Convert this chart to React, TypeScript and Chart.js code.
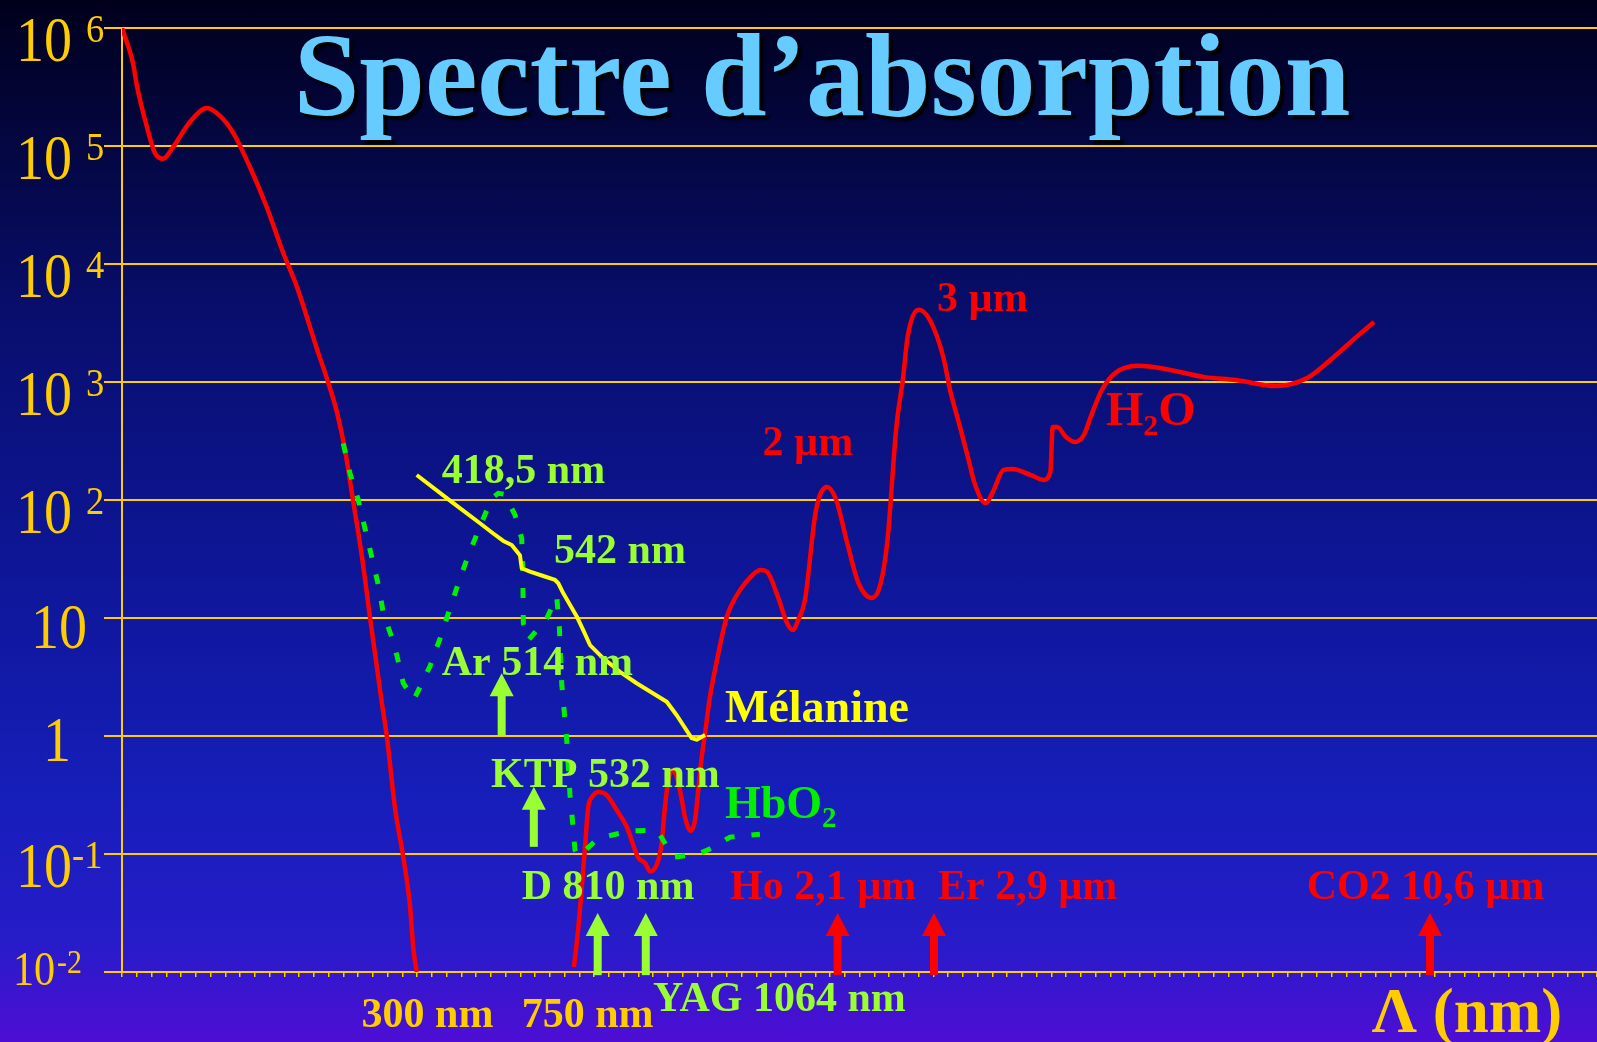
import { useEffect, useRef } from "react";
import { Chart, registerables } from "chart.js";

Chart.register(...registerables);

// x: position along the (non-uniform) wavelength axis, in minor-tick units (0 to 100)
// y: absorption coefficient (logarithmic)
const h2oX = [
  0, 0.75, 1.02, 1.69, 2.24, 2.78, 3.46, 4.61, 5.76, 6.64, 7.53, 8.68, 9.83, 10.92, 11.86, 13.22, 13.97, 14.58,
  15.12, 15.66, 16.27, 16.81, 17.59, 17.97, 18.51, 19.07, 19.53, 19.75, 19.98, 25,
  30.64, 30.94, 31.17, 31.39, 31.61, 31.84, 32.29, 32.86, 33.54, 34.22, 35.0, 35.46, 35.8, 36.25, 36.59, 36.81,
  37.04, 37.27, 37.61, 37.95, 38.17, 38.56, 38.85, 39.07, 39.3, 39.53, 39.86, 40.34, 41.0, 41.91, 42.58, 43.27,
  43.73, 44.48, 45.08, 45.48, 45.84, 46.3, 47.05, 47.81, 48.42, 49.17, 49.93, 50.84, 51.44, 51.9, 52.5, 52.96,
  53.26, 54.02, 54.77, 55.68, 56.14, 56.74, 57.35, 57.8, 58.56, 59.01, 59.77, 60.37, 61.59, 62.49, 62.94, 63.1,
  63.4, 64.0, 64.61, 65.21, 65.67, 66.43, 67.34, 68.85, 70.36, 73.39, 75.51, 78.23, 80.35, 82.16, 83.68, 84.89,
];
const h2oY = [
  1e6, 5e5, 3.2e5, 1.45e5, 8.7e4, 7.8e4, 9.8e4, 1.6e5, 2.1e5, 1.8e5, 1.3e5, 6.6e4, 3.0e4, 1.25e4, 6.4e3, 1.9e3, 1.0e3, 550,
  265, 100, 33, 10.2, 2.02, 0.96, 0.245, 0.094, 0.036, 0.016, 0.01, null,
  0.011, 0.024, 0.052, 0.114, 0.25, 0.3, 0.335, 0.316, 0.236, 0.17, 0.093, 0.084, 0.071, 0.081, 0.124, 0.25,
  0.42, 0.51, 0.45, 0.29, 0.205, 0.157, 0.194, 0.35, 0.66, 1.06, 2.14, 4.4, 10.2, 17.3, 22, 25.5,
  24.6, 15, 9.1, 7.9, 9.6, 14.2, 82, 129, 100, 43, 19.8, 14.8, 19.8, 46, 415, 1100,
  2400, 4100, 3350, 1630, 855, 450, 231, 139, 94, 115, 180, 183, 163, 148, 173, 415,
  415, 342, 310, 355, 505, 855, 1190, 1370, 1315, 1100, 1040, 925, 1080, 1630, 2400, 3220,
];

const melX = [19.98, 22.46, 24.27, 25.17, 25.85, 26.42, 26.98, 27.1, 27.66, 28.56, 29.36, 29.58, 29.92, 30.83, 31.27, 31.73, 32.63, 33.76, 34.89, 36.93, 37.61, 38.62, 38.96, 39.53];
const melY = [163, 94, 63.5, 52, 45, 41.5, 34, 26.4, 24.7, 22.7, 21, 19.7, 16.2, 10.3, 7.9, 5.9, 4.55, 3.5, 2.8, 1.95, 1.5, 0.96, 0.93, 1.02];

const hbX = [
  15.0, 15.46, 16.02, 16.47, 16.93, 17.38, 17.72, 18.39, 18.62, 19.07, 19.8, 20.88, 21.56, 22.24, 22.8, 23.48, 24.27,
  25.06, 25.51, 25.9, 26.64, 27.1, 27.17, 27.19, 27.21, 27.55, 28.79, 29.47, 29.65, 29.81, 30.15, 30.37, 30.56, 30.71,
  30.94, 32.29, 34.44, 36.14, 36.47, 37.38, 38.96, 39.98, 41.22, 43.25,
];
const hbY = [
  302, 168, 100, 57.5, 33, 19, 11, 6.3, 4.9, 2.8, 2.05, 3.9, 6.7, 12.1, 19.7, 34, 59.5,
  103, 114, 112, 75, 47, 27, 15.2, 9.0, 6.5, 9.9, 15.2, 8.4, 2.8, 0.93, 0.32, 0.18, 0.108,
  0.095, 0.136, 0.157, 0.159, 0.145, 0.094, 0.099, 0.112, 0.139, 0.147,
];

const yTickValues = [1e6, 1e5, 1e4, 1e3, 1e2, 10, 1, 0.1, 0.01];
const yTickBase = ["10", "10", "10", "10", "10", "10", "1", "10", "10"];
const yTickExp = ["6", "5", "4", "3", "2", "", "", "-1", "-2"];

// laser lines: Ar 514, KTP 532, D 810, YAG 1064, Ho 2.1, Er 2.9, CO2 10.6
const arrowX = [25.74, 27.92, 32.25, 35.51, 48.52, 55.05, 88.68];
const arrowBase = [1, 0.115, 0.0094, 0.0094, 0.0094, 0.0094, 0.0094];
const arrowTip = [3.4, 0.372, 0.0316, 0.0316, 0.0316, 0.0316, 0.0316];

const labelText = [
  "418,5 nm", "542 nm", "Ar 514 nm", "KTP 532 nm", "Mélanine", "HbO_2", "D 810 nm", "Ho 2,1 µm",
  "Er 2,9 µm", "CO2 10,6 µm", "YAG 1064 nm", "300 nm", "750 nm", "Λ (nm)", "3 µm", "2 µm", "H_2O",
];
const labelX = [21.68, 29.29, 21.68, 25.02, 40.88, 40.88, 27.1, 41.22, 55.32, 80.32, 36.0, 16.24, 27.1, 84.73, 55.25, 43.42, 66.71];
const labelY = [140, 29.4, 3.29, 0.372, 1.32, 0.202, 0.0413, 0.0413, 0.0413, 0.0413, 0.0047, 0.00343, 0.00343, 0.00312, 3960, 240, 432];

const TITLE = "Spectre d\u2019absorption";

const GOLD = "#FFCC00";
const LG = "#99FF33";
const RED = "#FF0000";
const YEL = "#FFFF00";
const HBG = "#00F000";
const SERIF = '"Liberation Serif", "Times New Roman", "DejaVu Serif", serif';

const arrowColor = [LG, LG, LG, LG, RED, RED, RED];
const labelColor = [LG, LG, LG, LG, YEL, HBG, LG, RED, RED, RED, LG, GOLD, GOLD, GOLD, RED, RED, RED];
const labelSize = [42, 42, 42, 42, 46, 46, 42, 42, 42, 42, 42, 42, 42, 63, 42, 42, 48];

function drawRich(ctx: CanvasRenderingContext2D, text: string, x0: number, y0: number, size: number) {
  let x = x0;
  let i = 0;
  while (i < text.length) {
    if (text[i] === "_" && i + 1 < text.length) {
      const s = text[i + 1];
      ctx.font = `bold ${Math.round(size * 0.62)}px ${SERIF}`;
      ctx.fillText(s, x, y0 + size * 0.2);
      x += ctx.measureText(s).width;
      i += 2;
    } else {
      let j = i;
      while (j < text.length && text[j] !== "_") j++;
      const s = text.slice(i, j);
      ctx.font = `bold ${size}px ${SERIF}`;
      ctx.fillText(s, x, y0);
      x += ctx.measureText(s).width;
      i = j;
    }
  }
}

function drawNarrow(ctx: CanvasRenderingContext2D, s: string, x: number, y: number, size: number, align: CanvasTextAlign, sx: number) {
  ctx.save();
  ctx.translate(x, y);
  ctx.scale(sx, 1);
  ctx.font = `${size}px ${SERIF}`;
  ctx.textAlign = align;
  ctx.fillText(s, 0, 0);
  ctx.restore();
}

const overlay = {
  id: "overlay",
  afterDraw(chart: any) {
    const ctx: CanvasRenderingContext2D = chart.ctx;
    const xs = chart.scales.x;
    const ys = chart.scales.y;
    ctx.save();
    ctx.textBaseline = "alphabetic";

    // y tick labels with superscripts
    ctx.fillStyle = GOLD;
    yTickValues.forEach((v, i) => {
      const py = ys.getPixelForValue(v);
      const base = yTickBase[i];
      const exp = yTickExp[i];
      if (i === yTickValues.length - 1) {
        drawNarrow(ctx, base, 13, py + 13, 48, "left", 0.88);
        drawNarrow(ctx, exp, 57, py + 1, 34, "left", 0.88);
      } else if (exp) {
        drawNarrow(ctx, base, 72, py + 33, 63, "right", 0.89);
        drawNarrow(ctx, exp, exp.startsWith("-") ? 72 : 86, py + 14, 41, "left", 0.89);
      } else {
        drawNarrow(ctx, base, base.length > 1 ? 59 : 57, py + (base.length > 1 ? 30 : 25), 63, "center", 0.89);
      }
    });

    // title
    ctx.textAlign = "center";
    ctx.font = `bold 118px ${SERIF}`;
    ctx.shadowColor = "rgba(0,0,0,0.95)";
    ctx.shadowOffsetX = 4;
    ctx.shadowOffsetY = 4;
    ctx.shadowBlur = 2;
    ctx.fillStyle = "#66CCFF";
    ctx.fillText(TITLE, 822, 115);
    ctx.shadowColor = "transparent";
    ctx.shadowOffsetX = 0;
    ctx.shadowOffsetY = 0;
    ctx.shadowBlur = 0;

    // arrows
    arrowX.forEach((ax, i) => {
      const px = xs.getPixelForValue(ax);
      const pb = ys.getPixelForValue(arrowBase[i]);
      const pt = ys.getPixelForValue(arrowTip[i]);
      const headH = 23;
      const headW = 24;
      const shaftW = 8;
      ctx.fillStyle = arrowColor[i];
      ctx.fillRect(px - shaftW / 2, pt + headH - 1, shaftW, pb - (pt + headH - 1));
      ctx.beginPath();
      ctx.moveTo(px, pt);
      ctx.lineTo(px - headW / 2, pt + headH);
      ctx.lineTo(px + headW / 2, pt + headH);
      ctx.closePath();
      ctx.fill();
    });

    // text annotations
    ctx.textAlign = "left";
    labelText.forEach((t, i) => {
      ctx.fillStyle = labelColor[i];
      drawRich(ctx, t, xs.getPixelForValue(labelX[i]), ys.getPixelForValue(labelY[i]), labelSize[i]);
    });
    ctx.restore();
  },
};

export default function App() {
  const ref = useRef<HTMLCanvasElement>(null);
  useEffect(() => {
    document.body.style.margin = "0";
    const pts = (xa: number[], ya: (number | null)[]) => xa.map((x, i) => ({ x, y: ya[i] }));
    const chart = new Chart(ref.current as HTMLCanvasElement, {
      type: "line",
      data: {
        datasets: [
          {
            label: "Mélanine",
            data: pts(melX, melY) as any,
            borderColor: YEL,
            borderWidth: 4,
            pointRadius: 0,
            tension: 0,
            borderJoinStyle: "round",
          },
          {
            label: "HbO2",
            data: pts(hbX, hbY) as any,
            borderColor: HBG,
            borderWidth: 5,
            borderDash: [10, 17],
            borderCapStyle: "butt",
            pointRadius: 0,
            tension: 0,
          },
          {
            label: "H2O",
            data: pts(h2oX, h2oY) as any,
            borderColor: RED,
            borderWidth: 4.5,
            pointRadius: 0,
            cubicInterpolationMode: "monotone",
            spanGaps: false,
            borderJoinStyle: "round",
          },
        ],
      },
      options: {
        responsive: false,
        animation: false,
        events: [],
        layout: { padding: { left: 104, top: 28, right: 0, bottom: 65 } },
        plugins: {
          legend: { display: false },
          tooltip: { enabled: false },
          title: { display: false },
        },
        scales: {
          x: {
            type: "linear",
            min: 0,
            max: 100,
            ticks: { display: false, stepSize: 1, autoSkip: false, maxTicksLimit: 200 },
            grid: { display: true, drawOnChartArea: false, drawTicks: true, tickLength: 5, color: GOLD, lineWidth: 1.5 },
            border: { display: true, color: GOLD, width: 2 },
          },
          y: {
            type: "logarithmic",
            min: 0.01,
            max: 1e6,
            afterBuildTicks: (s: any) => {
              s.ticks = yTickValues.map((v) => ({ value: v }));
            },
            ticks: { display: false },
            grid: { color: GOLD, lineWidth: 2, tickLength: 18, drawTicks: true },
            border: { display: true, color: GOLD, width: 2 },
          },
        },
      } as any,
      plugins: [overlay],
    });
    return () => chart.destroy();
  }, []);
  return (
    <div
      style={{
        width: 1597,
        height: 1042,
        overflow: "hidden",
        background:
          "linear-gradient(180deg, rgb(0,0,28) 0%, rgb(8,14,108) 30%, rgb(14,22,152) 55%, rgb(22,30,185) 76%, rgb(38,28,200) 90%, rgb(78,14,212) 100%)",
      }}
    >
      <canvas ref={ref} width={1597} height={1042} style={{ display: "block" }} />
    </div>
  );
}
